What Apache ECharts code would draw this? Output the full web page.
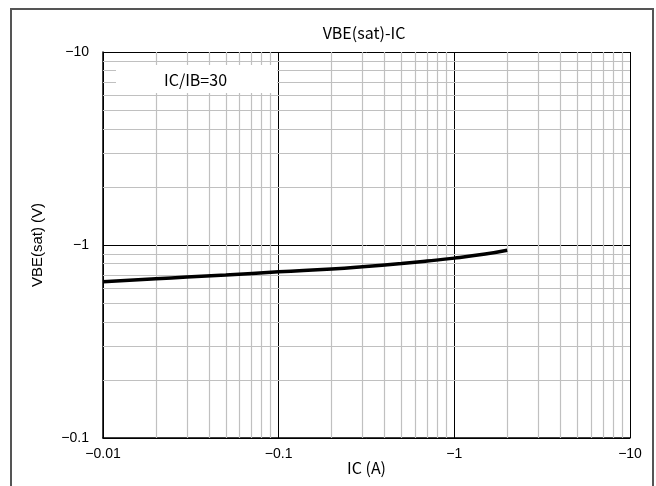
<!DOCTYPE html>
<html><head><meta charset="utf-8">
<script src="https://cdn.jsdelivr.net/npm/echarts@6/dist/echarts.min.js"></script>
<style>html,body{margin:0;padding:0;background:#fff;}#c{width:656px;height:486px;}</style>
</head><body><div id="c"></div>
<script>
const chartTitle = 'VBE(sat)-IC';
const xName = 'IC (A)';
const yName = 'VBE(sat) (V)';
const legendText = 'IC/IB=30';
// |IC| (A) and |VBE(sat)| (V), displayed as negative values
const icValues = [0.01, 0.02, 0.03, 0.05, 0.1, 0.2, 0.3, 0.5, 0.7, 1, 1.5, 2];
const vbeValues = [0.645, 0.668, 0.682, 0.699, 0.726, 0.751, 0.771, 0.802, 0.826, 0.855, 0.898, 0.94];
const xMinorTicks = [0.02,0.03,0.04,0.05,0.06,0.07,0.08,0.09,0.2,0.3,0.4,0.5,0.6,0.7,0.8,0.9,2,3,4,5,6,7,8,9];
const yMinorTicks = [0.2,0.3,0.4,0.5,0.6,0.7,0.8,0.9,2,3,4,5,6,7,8,9];

const JP = '"Noto Sans CJK JP", "Noto Sans", sans-serif';
const SANS = '"Liberation Sans", Arial, sans-serif';
const chart = echarts.init(document.getElementById('c'), null, {renderer: 'canvas'});
const neg = v => '\u2212' + (+(+v).toPrecision(6));

const minorLines = [];
xMinorTicks.forEach(v => minorLines.push({xAxis: v}));
yMinorTicks.forEach(v => minorLines.push({yAxis: v}));

chart.setOption({
  animation: false,
  backgroundColor: '#fff',
  title: [
    {text: chartTitle, left: 359, top: 19, textAlign: 'center',
      textStyle: {fontFamily: JP, fontSize: 16, lineHeight: 18, fontWeight: 'normal', color: '#000'}},
    {text: legendText, left: 116, top: 65, z: 20, backgroundColor: '#fff',
      padding: [6, 47, 4, 48],
      textStyle: {fontFamily: JP, fontSize: 16, lineHeight: 18, fontWeight: 'normal', color: '#000', width: 66, align: 'center'}}
  ],
  grid: {left: 103, right: 26, top: 52, bottom: 48, containLabel: false, outerBoundsMode: 'none'},
  xAxis: {type: 'log', logBase: 10, min: 0.01, max: 10,
    name: xName, nameLocation: 'middle', nameGap: 21, nameMoveOverlap: false,
    nameTextStyle: {fontFamily: JP, fontSize: 16, lineHeight: 18, color: '#000'},
    axisLine: {show: true, lineStyle: {color: '#000', width: 1.5}},
    axisTick: {show: false},
    axisLabel: {formatter: neg, fontFamily: SANS, fontSize: 14, color: '#000', margin: 9},
    splitLine: {show: true, lineStyle: {color: '#000', width: 1}},
    minorTick: {show: false}, minorSplitLine: {show: false}},
  yAxis: {type: 'log', logBase: 10, min: 0.1, max: 10,
    name: yName, nameLocation: 'middle', nameGap: 58, nameRotate: 90,
    nameTextStyle: {fontFamily: SANS, fontSize: 15, color: '#000'},
    axisLine: {show: true, lineStyle: {color: '#000', width: 1.5}},
    axisTick: {show: false},
    axisLabel: {formatter: neg, fontFamily: SANS, fontSize: 14, color: '#000', margin: 14},
    splitLine: {show: true, lineStyle: {color: '#000', width: 1}},
    minorTick: {show: false}, minorSplitLine: {show: false}},
  graphic: [
    {type: 'rect', shape: {x: 11, y: 9, width: 642, height: 500}, z: 100,
      style: {fill: 'none', stroke: '#555', lineWidth: 2}}
  ],
  series: [
    {type: 'line', data: [], z: 0, silent: true,
      markLine: {silent: true, symbol: 'none', label: {show: false}, animation: false,
        lineStyle: {color: '#c0c0c0', type: 'solid', width: 1.2}, data: minorLines}},
    {type: 'line', smooth: true, showSymbol: false, z: 10,
      lineStyle: {color: '#000', width: 3.5},
      data: icValues.map((x, i) => [x, vbeValues[i]])}
  ]
});
</script></body></html>
